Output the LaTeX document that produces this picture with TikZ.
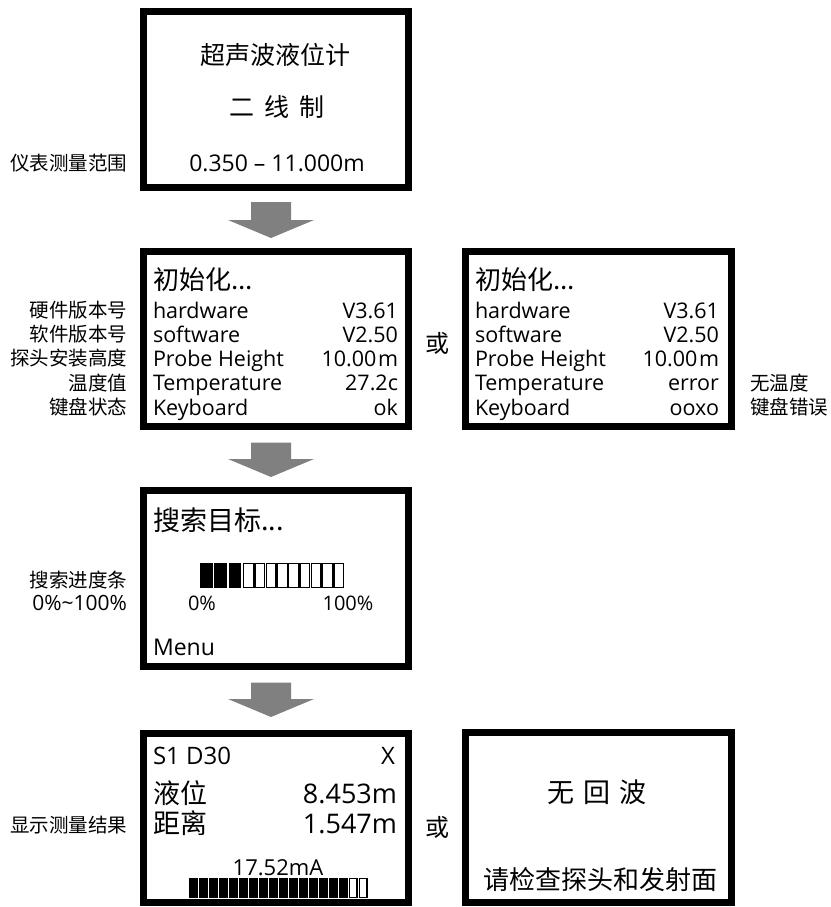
\documentclass[tikz,border=0pt]{standalone}
\usepackage{fontspec}
\setmainfont{Open Sans}
\newfontfamily\cjk{Noto Sans CJK SC}
\usetikzlibrary{calc}
\definecolor{arrowgray}{RGB}{128,128,128}
\newcommand\myblockarrow[2]{%
  \fill[arrowgray] ($(#1)+(-20,0)$) -- ($(#1)+(20,0)$) -- ($(#2)+(20,-18)$) -- ($(#2)+(43,-18)$) -- (#2) -- ($(#2)+(-43,-18)$) -- ($(#2)+(-20,-18)$) -- cycle;}
\begin{document}
\begin{tikzpicture}[x=1pt,y=-1pt,
  lcd/.style={draw=black, line width=7pt, fill=white, inner sep=0pt, outer sep=0pt},
  lt/.style={inner sep=0pt, outer sep=0pt, font=\fontsize{#1pt}{#1pt}\selectfont, text height=0.75*#1pt, text depth=0pt},
  cj/.style={inner sep=0pt, outer sep=0pt, font=\cjk\fontsize{#1pt}{#1pt}\selectfont, text height=0.75*#1pt, text depth=0pt},
  lab/.style={cj=19.5, anchor=east},
  labr/.style={cj=19.5, anchor=west},
  row/.style={lt=21.5, anchor=west},
  val/.style={lt=21.5, anchor=east},
  orword/.style={cj=24, anchor=center}
]
\useasboundingbox (0,0) rectangle (830,907);

% screens
\node[lcd, minimum width=265pt, minimum height=176pt] (top) at (276,99.5) {};
\node[lcd, minimum width=265pt, minimum height=175pt] (initL) at (276,339) {};
\node[lcd, minimum width=266pt, minimum height=175pt] (initR) at (598.5,339) {};
\node[lcd, minimum width=265pt, minimum height=176pt] (search) at (276,578.5) {};
\node[lcd, minimum width=265pt, minimum height=169pt] (result) at (276,818) {};
\node[lcd, minimum width=266pt, minimum height=170pt] (noecho) at (598.5,817.5) {};

% block arrows
\coordinate (a1s) at ([xshift=-5pt,yshift=-14.5pt]top.south);
\coordinate (a1e) at ([xshift=-5pt,yshift=13.5pt]initL.north);
\coordinate (a2s) at ([xshift=-5pt,yshift=-16pt]initL.south);
\coordinate (a2e) at ([xshift=-5pt,yshift=13.5pt]search.north);
\coordinate (a3s) at ([xshift=-5pt,yshift=-16pt]search.south);
\coordinate (a3e) at ([xshift=-5pt,yshift=16.5pt]result.north);
\myblockarrow{a1s}{a1e}
\myblockarrow{a2s}{a2e}
\myblockarrow{a3s}{a3e}

% top screen
\node[cj=25] (t1) at (275,55) {超声波液位计};
\node[cj=25] (t2) at (277,107) {二\hspace{10pt}线\hspace{10pt}制};
\node[lt=23] (t3) at (277,163) {0.350 – 11.000m};
\node[lab] (l0) at (127,163) {仪表测量范围};

% init screens
\node[cj=26, anchor=west] (iL) at (153,280) {初始化...};
\node[cj=26, anchor=west] (iR) at (475,280) {初始化...};
\foreach \k/\v [count=\i] in {hardware/V3.61, software/V2.50, Probe Height/10.00\kern1.5pt m, Temperature/27.2c, Keyboard/ok}
  {\node[row] (kL\i) at (153,{310+24.25*(\i-1)}) {\k};
   \node[val] (vL\i) at (398,{310+24.25*(\i-1)}) {\v};}
\foreach \k/\v [count=\i] in {hardware/V3.61, software/V2.50, Probe Height/10.00\kern1.5pt m, Temperature/error, Keyboard/ooxo}
  {\node[row] (kR\i) at (475,{310+24.25*(\i-1)}) {\k};
   \node[val] (vR\i) at (719,{310+24.25*(\i-1)}) {\v};}
\foreach \t [count=\i] in {硬件版本号, 软件版本号, 探头安装高度, 温度值, 键盘状态}
  {\node[lab] (lL\i) at (127,{310+24.25*(\i-1)}) {\t};}
\node[labr] (lR1) at (750,383) {无温度};
\node[labr] (lR2) at (750,407) {键盘错误};
\node[orword] (or1) at (437,343) {或};

% search screen
\node[cj=27, anchor=west] (s1) at (153,520) {搜索目标...};
\foreach \i in {0,1,2} \fill (200+\i*14.3,563) rectangle +(12.6,25);
\foreach \i in {0,...,8} \draw[line width=1.3pt] (243.6+\i*11.3,563.65) rectangle +(9.7,23.7);
\node[lt=20] (p0) at (202,603) {0\%};
\node[lt=20] (p100) at (348,603) {100\%};
\node[lt=23, anchor=west] (menu) at (153,647) {Menu};
\node[lab] (ls1) at (127,580) {搜索进度条};
\node[lt=21, anchor=east] (ls2) at (127,603) {0\%\textasciitilde 100\%};

% result screen
\node[lt=24, anchor=west] (r1) at (153,755) {S1 D30};
\node[lt=24, anchor=east] (r2) at (395,755) {X};
\node[cj=27, anchor=west] (r3) at (153,793) {液位};
\node[lt=27, anchor=east] (r4) at (397,793) {8.453m};
\node[cj=27, anchor=west] (r5) at (153,823) {距离};
\node[lt=27, anchor=east] (r6) at (397,823) {1.547m};
\node[lt=22] (r7) at (278,867) {17.52mA};
\foreach \i in {0,...,15} \fill (189+\i*10,878) rectangle +(8.6,20);
\foreach \i in {16,17} \draw[line width=1.2pt] (189.6+\i*10,878.6) rectangle +(7.4,18.8);
\node[lab] (lr) at (127,825) {显示测量结果};
\node[orword] (or2) at (437,827) {或};

% no echo screen
\node[cj=27] (n1) at (597,792) {无\hspace{9pt}回\hspace{9pt}波};
\node[cj=26] (n2) at (600,880) {请检查探头和发射面};
\end{tikzpicture}
\end{document}
